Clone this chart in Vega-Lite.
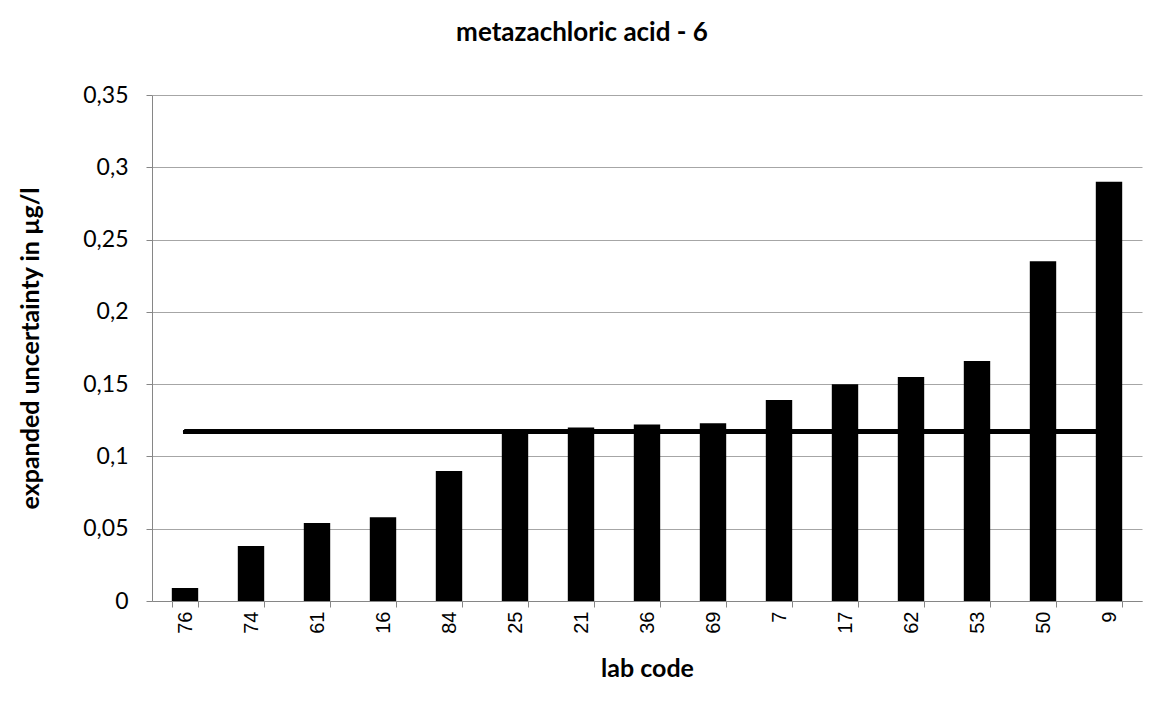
{
  "$schema": "https://vega.github.io/schema/vega-lite/v6.json",
  "width": 990,
  "height": 506,
  "autosize": "none",
  "padding": {"left": 152, "top": 95, "right": 22, "bottom": 112},
  "background": "white",
  "title": {
    "text": "metazachloric acid - 6",
    "font": "Lato",
    "fontSize": 26,
    "fontWeight": "bold",
    "color": "black",
    "anchor": "middle",
    "frame": "group",
    "dx": -65,
    "offset": 17,
    "baseline": "alphabetic"
  },
  "data": {
    "values": [
      {"lab": "76", "u": 0.009},
      {"lab": "74", "u": 0.038},
      {"lab": "61", "u": 0.054},
      {"lab": "16", "u": 0.058},
      {"lab": "84", "u": 0.090},
      {"lab": "25", "u": 0.116},
      {"lab": "21", "u": 0.120},
      {"lab": "36", "u": 0.122},
      {"lab": "69", "u": 0.123},
      {"lab": "7", "u": 0.139},
      {"lab": "17", "u": 0.150},
      {"lab": "62", "u": 0.155},
      {"lab": "53", "u": 0.166},
      {"lab": "50", "u": 0.235},
      {"lab": "9", "u": 0.290}
    ]
  },
  "layer": [
    {
      "mark": {"type": "bar", "color": "black"},
      "encoding": {
        "x": {
          "field": "lab",
          "type": "nominal",
          "sort": null,
          "scale": {"paddingInner": 0.6, "paddingOuter": 0.3},
          "axis": {
            "title": "lab code",
            "labelAngle": -90,
            "labelFont": "Liberation Sans",
            "labelFontSize": 20,
            "labelColor": "black",
            "labelPadding": 4,
            "domainColor": "#868686",
            "tickColor": "#868686",
            "tickSize": 6,
            "tickBand": "extent",
            "grid": false,
            "titleFont": "Lato",
            "titleFontSize": 25,
            "titleFontWeight": "bold",
            "titleColor": "black",
            "titleY": 67,
            "titleBaseline": "middle"
          }
        },
        "y": {
          "field": "u",
          "type": "quantitative",
          "scale": {"domain": [0, 0.35]},
          "axis": {
            "title": "expanded uncertainty in µg/l",
            "values": [0, 0.05, 0.1, 0.15, 0.2, 0.25, 0.3, 0.35],
            "labelExpr": "replace(format(datum.value, '~g'), '.', ',')",
            "labelFont": "Lato",
            "labelFontSize": 23,
            "labelColor": "black",
            "labelPadding": 18,
            "tickSize": 6,
            "domainColor": "#868686",
            "tickColor": "#868686",
            "gridColor": "#a6a6a6",
            "titleFont": "Lato",
            "titleFontSize": 25,
            "titleFontWeight": "bold",
            "titleColor": "black",
            "titleX": -122,
            "titleY": 253,
            "titleAngle": -90,
            "titleAlign": "center",
            "titleBaseline": "middle"
          }
        }
      }
    },
    {
      "mark": {"type": "rule", "color": "black", "strokeWidth": 4, "strokeCap": "round"},
      "encoding": {
        "x": {"datum": "76", "type": "nominal"},
        "x2": {"datum": "9"},
        "y": {"datum": 0.117, "type": "quantitative"}
      }
    }
  ],
  "config": {"view": {"stroke": null}}
}
